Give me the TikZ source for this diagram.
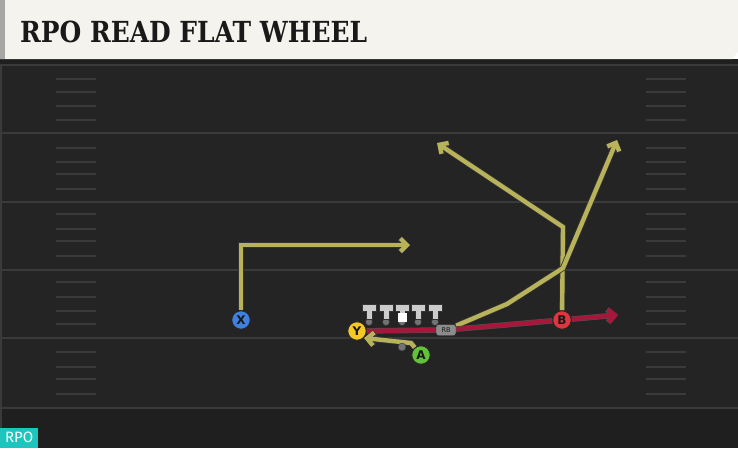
\documentclass[tikz,border=0pt]{standalone}
\usepackage{fontspec}
\usetikzlibrary{arrows.meta}
\newfontfamily\titlefont{DejaVu Serif}
\newfontfamily\playerfont{DejaVu Sans}
\newfontfamily\tagfont{Fira Sans}
\definecolor{fieldgray}{HTML}{242424}
\definecolor{yardgray}{HTML}{3A3A3A}
\definecolor{cream}{HTML}{F5F3EE}
\definecolor{routeolive}{HTML}{B8B35A}
\definecolor{blockred}{HTML}{A8173B}
\definecolor{xblue}{HTML}{3F80E0}
\definecolor{yyellow}{HTML}{F6C823}
\definecolor{agreen}{HTML}{62C23A}
\definecolor{bred}{HTML}{E2343F}
\definecolor{tagteal}{HTML}{1CC6BE}
\pgfdeclarelayer{field}
\pgfdeclarelayer{routes}
\pgfsetlayers{field,routes,main}
\tikzset{
  player/.style={circle,draw=black!85,line width=0.9pt,minimum size=18.5pt,inner sep=0pt,
    font=\playerfont\bfseries\fontsize{12}{12}\selectfont,text=black!90},
  route/.style={draw=routeolive,line width=4.4pt,line join=miter,
    preaction={draw=black!80,line width=6pt}},
  block/.style={draw=blockred,line width=4.4pt,
    preaction={draw=black!70,line width=5.6pt}},
  tip/.style={-{Straight Barb[length=6.5pt,width=13pt]}},
  hash/.style={draw=yardgray,line width=1.2pt},
  yard/.style={draw=yardgray,line width=1.5pt}
}
\begin{document}
\begin{tikzpicture}[x=1pt,y=-1pt]
  \useasboundingbox (0,0) rectangle (738,448);
  \begin{pgfonlayer}{field}
    % field and title bar
    \fill[fieldgray] (0,59) rectangle (738,448);
    \fill[black!88] (0,59) rectangle (738,64);
    \fill[black!88] (0,409) rectangle (738,448);
    \fill[cream] (0,0) -- (738,0) -- (738,52) -- (732,59) -- (0,59) -- cycle;
    \fill[black!35] (0,0) rectangle (5,59);
    \draw[yardgray,line width=1.5pt] (1,64) -- (1,448);
    \foreach \y in {65,133,202,270,338,408}
      \draw[yard] (0,\y) -- (738,\y);
    \foreach \y in {79,92,106,120,148,162,174,189,214,229,241,256,282,297,311,324,352,367,379,394} {
      \draw[hash] (56,\y) -- (96,\y);
      \draw[hash] (646,\y) -- (686,\y);
    }
  \end{pgfonlayer}
  \node[anchor=west,font=\titlefont\bfseries\fontsize{29}{29}\selectfont,text=black!90,inner sep=0pt]
    (title) at (20,32) {\scalebox{0.86}[1]{RPO READ FLAT WHEEL}};
  \node[fill=tagteal,text=white,anchor=south west,inner sep=0pt,minimum width=38pt,minimum height=20pt,
    font=\tagfont\fontsize{15}{15}\selectfont] (tag) at (0,448) {RPO};
  % offensive line
  \foreach \x in {369,386,402,418,435} {
    \draw[black!80,fill=black!55,line width=0.7pt] (\x,322) circle (3.6);
    \fill[black!80] (\x-7.5,303.5) rectangle (\x+7.5,311.5);
    \fill[black!80] (\x-3.5,310) rectangle (\x+3.5,320);
    \fill[black!20] (\x-6.5,304.5) rectangle (\x+6.5,310.5);
    \fill[black!20] (\x-2.5,309) rectangle (\x+2.5,319);
  }
  \fill[white] (397.5,313) rectangle (406.5,322);
  % skill players
  \node[player,fill=xblue] (X) at (241,320) {X};
  \node[player,fill=yyellow] (Y) at (357,331) {Y};
  \node[player,fill=agreen] (A) at (421,355) {A};
  \node[player,fill=bred] (B) at (562,320) {B};
  \node[draw=black!85,fill=black!45,rounded corners=2.5pt,minimum width=20pt,minimum height=11pt,inner sep=0pt,
    font=\playerfont\fontsize{6.5}{6.5}\selectfont,text=black!90] (RB) at (446,330) {RB};
  \node[circle,fill=black!55,draw=black!80,minimum size=8pt,inner sep=0pt] (QB) at (402,347) {};
  \begin{pgfonlayer}{routes}
    \draw[route,tip] (X) |- (410,245);
    \draw[route,tip] (B) -- (563,227) -- (437,143);
    \draw[route,tip] (RB) -- (507,304) -- (563,268) -- (617,140);
    \draw[block,tip] (Y) -- (RB) -- (B) -- (618,315);
    \draw[route,tip] (A) -- (411,343) -- (364,338);
  \end{pgfonlayer}
\end{tikzpicture}
\end{document}
